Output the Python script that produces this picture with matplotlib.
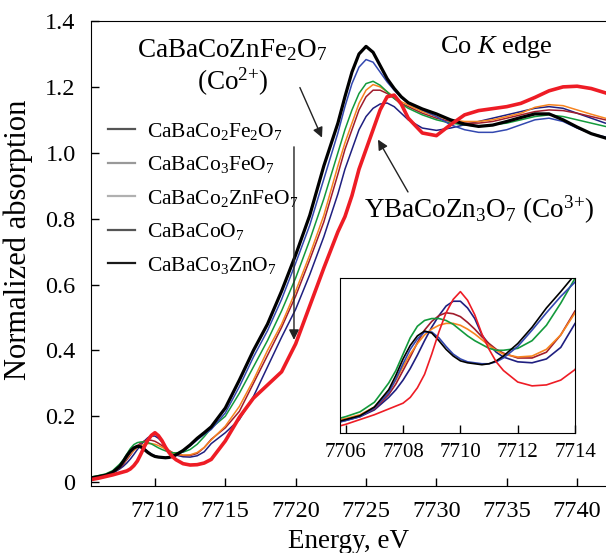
import numpy as np
import matplotlib
matplotlib.use("Agg")
import matplotlib.pyplot as plt
from matplotlib.lines import Line2D

plt.rcParams['font.family'] = ['Liberation Serif', 'DejaVu Serif']
plt.rcParams['mathtext.fontset'] = 'custom'
plt.rcParams['mathtext.rm'] = 'Liberation Serif'
plt.rcParams['mathtext.it'] = 'Liberation Serif:italic'
plt.rcParams['mathtext.bf'] = 'Liberation Serif:bold'

# Co K-edge XANES
energy = [7705.5, 7706, 7706.5, 7707, 7707.5, 7707.75, 7708, 7708.25, 7708.5, 7708.75,
          7709, 7709.25, 7709.5, 7709.75, 7710, 7710.25, 7710.5, 7710.75, 7711, 7711.25,
          7711.5, 7712, 7712.5, 7713, 7713.5, 7714,
          7715, 7716, 7717, 7718, 7719, 7720, 7721, 7722, 7723,
          7723.5, 7724, 7724.5, 7725, 7725.5, 7726, 7726.5, 7727, 7727.5, 7728,
          7729, 7730, 7731, 7732, 7733, 7734, 7735, 7736, 7737, 7738, 7739, 7740, 7741, 7742]

ca_co_zn_fe2 = [0.013, 0.017, 0.021, 0.030, 0.048, 0.063, 0.080, 0.094, 0.104, 0.109,
                0.107, 0.099, 0.090, 0.083, 0.078, 0.076, 0.075, 0.074, 0.075, 0.078,
                0.083, 0.096, 0.113, 0.133, 0.150, 0.168,
                0.225, 0.31, 0.40, 0.48, 0.58, 0.69, 0.81, 0.96, 1.09,
                1.17, 1.245, 1.30, 1.323, 1.305, 1.265, 1.225, 1.195, 1.17, 1.152,
                1.133, 1.118, 1.100, 1.087, 1.080, 1.084, 1.095, 1.107, 1.118, 1.118, 1.100, 1.078, 1.058, 1.045]

blue = [0.012, 0.016, 0.020, 0.029, 0.045, 0.059, 0.075, 0.090, 0.101, 0.108,
        0.108, 0.102, 0.093, 0.085, 0.080, 0.077, 0.076, 0.075, 0.075, 0.077,
        0.081, 0.093, 0.110, 0.128, 0.145, 0.160,
        0.21, 0.29, 0.38, 0.46, 0.555, 0.665, 0.78, 0.92, 1.06,
        1.14, 1.21, 1.26, 1.283, 1.275, 1.245, 1.215, 1.19, 1.168, 1.15,
        1.13, 1.11, 1.085, 1.07, 1.062, 1.062, 1.07, 1.085, 1.10, 1.105, 1.095, 1.075, 1.058, 1.048]

green = [0.016, 0.020, 0.025, 0.035, 0.055, 0.068, 0.085, 0.102, 0.114, 0.120,
         0.122, 0.122, 0.120, 0.116, 0.110, 0.104, 0.099, 0.095, 0.091, 0.089,
         0.089, 0.091, 0.099, 0.115, 0.138, 0.164,
         0.20, 0.27, 0.35, 0.43, 0.52, 0.62, 0.735, 0.86, 1.0,
         1.07, 1.13, 1.18, 1.21, 1.217, 1.205, 1.185, 1.165, 1.148, 1.135,
         1.115, 1.10, 1.09, 1.085, 1.08, 1.085, 1.09, 1.10, 1.11, 1.115, 1.11, 1.10, 1.09, 1.08]

orange = [0.015, 0.018, 0.022, 0.030, 0.047, 0.058, 0.072, 0.085, 0.096, 0.105,
          0.111, 0.115, 0.117, 0.117, 0.115, 0.111, 0.106, 0.100, 0.094, 0.089,
          0.085, 0.082, 0.083, 0.090, 0.105, 0.128,
          0.17, 0.23, 0.31, 0.40, 0.48, 0.58, 0.69, 0.81, 0.96,
          1.03, 1.09, 1.15, 1.19, 1.207, 1.20, 1.185, 1.17, 1.155, 1.145,
          1.125, 1.11, 1.10, 1.095, 1.095, 1.10, 1.11, 1.12, 1.138, 1.146, 1.143, 1.13, 1.117, 1.105]

darkred = [0.014, 0.017, 0.021, 0.028, 0.043, 0.054, 0.068, 0.082, 0.097, 0.110,
           0.119, 0.125, 0.128, 0.127, 0.124, 0.118, 0.111, 0.103, 0.096, 0.090,
           0.086, 0.081, 0.081, 0.087, 0.105, 0.130,
           0.165, 0.215, 0.30, 0.385, 0.47, 0.565, 0.675, 0.79, 0.935,
           1.01, 1.07, 1.13, 1.17, 1.19, 1.19, 1.18, 1.165, 1.15, 1.14,
           1.12, 1.105, 1.095, 1.09, 1.09, 1.095, 1.105, 1.115, 1.125, 1.13, 1.128, 1.12, 1.11, 1.10]

navy = [0.013, 0.016, 0.020, 0.027, 0.040, 0.048, 0.058, 0.070, 0.084, 0.099,
        0.113, 0.125, 0.135, 0.140, 0.140, 0.133, 0.122, 0.105, 0.095, 0.087,
        0.082, 0.077, 0.076, 0.080, 0.092, 0.117,
        0.15, 0.19, 0.26, 0.35, 0.44, 0.525, 0.63, 0.745, 0.875,
        0.95, 1.01, 1.07, 1.11, 1.135, 1.148, 1.151, 1.14, 1.12, 1.10,
        1.075, 1.068, 1.075, 1.085, 1.095, 1.105, 1.115, 1.125, 1.135, 1.14, 1.135, 1.12, 1.105, 1.09]

y_ba_co_zn3 = [0.008, 0.012, 0.017, 0.022, 0.028, 0.031, 0.034, 0.040, 0.050, 0.064,
               0.085, 0.108, 0.128, 0.142, 0.150, 0.141, 0.126, 0.106, 0.090, 0.077,
               0.068, 0.056, 0.052, 0.053, 0.058, 0.069,
               0.125, 0.197, 0.255, 0.295, 0.335, 0.42, 0.535, 0.65, 0.76,
               0.806, 0.87, 0.95, 1.01, 1.07, 1.13, 1.17, 1.175, 1.148, 1.105,
               1.06, 1.052, 1.085, 1.115, 1.128, 1.134, 1.14, 1.15, 1.168, 1.188, 1.20, 1.202, 1.195, 1.182]

legend_labels = ['CaBaCo$_2$Fe$_2$O$_7$', 'CaBaCo$_3$FeO$_7$', 'CaBaCo$_2$ZnFeO$_7$',
                 'CaBaCoO$_7$', 'CaBaCo$_3$ZnO$_7$']
legend_greys = ['#555555', '#999999', '#b0b0b0', '#555555', '#1a1a1a']

curves = [
    (navy, '#1f1f80', 1.1),
    (darkred, '#a01c2c', 1.1),
    (orange, '#f7841f', 1.1),
    (green, '#139a3c', 1.1),
    (blue, '#3348b0', 1.1),
    (ca_co_zn_fe2, '#000000', 2.3),
    (y_ba_co_zn3, '#ee1c25', 2.6),
]

fig = plt.figure(figsize=(6.06, 5.53), dpi=100)
ax = fig.add_axes([0.150, 0.121, 0.850, 0.841])

for vals, col, lw in curves:
    ax.plot(energy, vals, color=col, lw=lw)

ax.set_xlim(7705.45, 7742.05)
ax.set_ylim(-0.012, 1.4)
ax.set_xticks([7710, 7715, 7720, 7725, 7730, 7735, 7740])
ax.set_yticks([0, 0.2, 0.4, 0.6, 0.8, 1.0, 1.2, 1.4])
ax.set_yticklabels(['0', '0.2', '0.4', '0.6', '0.8', '1.0', '1.2', '1.4'])
ax.tick_params(direction='in', length=6, width=1, labelsize=17.5)
ax.tick_params(axis='x', pad=11)
ax.tick_params(axis='y', pad=11)
ax.spines['right'].set_visible(False)
ax.set_xlabel('Energy, eV', fontsize=19.5, labelpad=5)
ax.set_ylabel('Normalized absorption', fontsize=22)
ax.yaxis.set_label_coords(-0.113, 0.529)

handles = [Line2D([], [], color=c, lw=1.6) for c in legend_greys]
ax.legend(handles, legend_labels, loc='upper left', bbox_to_anchor=(0.033, 0.785),
          frameon=False, fontsize=15.5, handlelength=1.25, handletextpad=0.55,
          labelspacing=0.58, borderpad=0, borderaxespad=0)

arrow = dict(arrowstyle='-|>', color='#222222', lw=1, mutation_scale=15, shrinkA=0, shrinkB=0)
ax.annotate('', xy=(7719.88, 0.432), xytext=(7719.88, 1.018), arrowprops=arrow)
ax.text(7715.5, 1.258, 'CaBaCoZnFe$_2$O$_7$\n(Co$^{2{+}}$)', ha='center', va='center',
        fontsize=19.5, linespacing=1.1)
ax.annotate('', xy=(7721.87, 1.046), xytext=(7720.3, 1.198), arrowprops=arrow)
ax.text(7733.0, 0.827, 'YBaCoZn$_3$O$_7$ (Co$^{3{+}}$)', ha='center', va='center', fontsize=19.5)
ax.annotate('', xy=(7725.85, 1.040), xytext=(7727.98, 0.881), arrowprops=arrow)
ax.text(7730.25, 1.322, 'Co $K$ edge', ha='left', va='center', fontsize=19)

# inset with the pre-edge
axin = fig.add_axes([0.561, 0.217, 0.388, 0.280])
for vals, col, lw in curves:
    axin.plot(energy, vals, color=col, lw=1.2)
axin.set_xlim(7705.8, 7714)
axin.set_ylim(0.003, 0.164)
axin.set_xticks([7706, 7708, 7710, 7712, 7714])
axin.set_yticks([])
axin.tick_params(direction='in', length=6, width=1, labelsize=15, pad=7)

fig.savefig('out.png', dpi=100)
